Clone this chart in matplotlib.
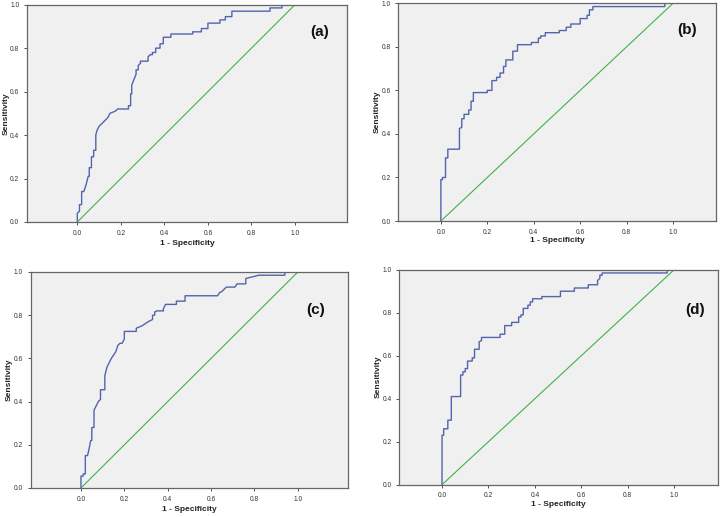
import matplotlib.pyplot as plt

# ROC curve vertices (1 - specificity, sensitivity)
fpr_a = [0, 0, 0.01, 0.01, 0.02, 0.02, 0.03, 0.04, 0.05, 0.055, 0.055, 0.065, 0.065, 0.075, 0.075,
         0.085, 0.085, 0.09, 0.10, 0.12, 0.14, 0.15, 0.175, 0.185, 0.235, 0.235, 0.245, 0.245, 0.25,
         0.25, 0.26, 0.27, 0.27, 0.28, 0.28, 0.29, 0.29, 0.325, 0.325, 0.335, 0.345, 0.345, 0.36,
         0.36, 0.38, 0.38, 0.395, 0.395, 0.43, 0.43, 0.53, 0.53, 0.57, 0.57, 0.60, 0.60, 0.655,
         0.655, 0.68, 0.68, 0.71, 0.71, 0.885, 0.885, 0.94, 0.94, 1.0]
tpr_a = [0, 0.04, 0.05, 0.08, 0.08, 0.14, 0.14, 0.17, 0.21, 0.21, 0.25, 0.25, 0.30, 0.30, 0.33,
         0.33, 0.40, 0.42, 0.44, 0.46, 0.48, 0.50, 0.51, 0.52, 0.52, 0.535, 0.535, 0.59, 0.59,
         0.63, 0.655, 0.68, 0.70, 0.70, 0.72, 0.73, 0.74, 0.74, 0.76, 0.77, 0.77, 0.78, 0.78,
         0.80, 0.80, 0.82, 0.82, 0.85, 0.85, 0.865, 0.865, 0.875, 0.875, 0.89, 0.89, 0.915, 0.915,
         0.93, 0.93, 0.945, 0.945, 0.97, 0.97, 0.985, 0.985, 1.0, 1.0]

fpr_b = [0, 0, 0.007, 0.007, 0.02, 0.02, 0.03, 0.03, 0.08, 0.08, 0.09, 0.09, 0.10, 0.10, 0.12,
         0.12, 0.13, 0.13, 0.14, 0.14, 0.20, 0.20, 0.22, 0.22, 0.24, 0.24, 0.255, 0.255, 0.27,
         0.27, 0.28, 0.28, 0.31, 0.31, 0.33, 0.33, 0.39, 0.39, 0.42, 0.42, 0.43, 0.43, 0.45, 0.45,
         0.51, 0.51, 0.54, 0.54, 0.56, 0.56, 0.60, 0.60, 0.63, 0.63, 0.64, 0.64, 0.655, 0.655,
         0.965, 0.965, 1.0]
tpr_b = [0, 0.19, 0.19, 0.20, 0.20, 0.29, 0.29, 0.33, 0.33, 0.425, 0.43, 0.47, 0.47, 0.49, 0.49,
         0.51, 0.51, 0.55, 0.55, 0.59, 0.59, 0.60, 0.60, 0.645, 0.645, 0.66, 0.66, 0.68, 0.68,
         0.71, 0.71, 0.74, 0.74, 0.78, 0.78, 0.81, 0.81, 0.82, 0.82, 0.84, 0.84, 0.85, 0.85, 0.865,
         0.865, 0.875, 0.875, 0.89, 0.89, 0.905, 0.905, 0.93, 0.93, 0.945, 0.945, 0.97, 0.97, 0.985,
         0.985, 1.0, 1.0]

fpr_c = [0, 0, 0.01, 0.01, 0.02, 0.02, 0.03, 0.035, 0.045, 0.05, 0.05, 0.06, 0.06, 0.07, 0.08,
         0.09, 0.09, 0.11, 0.11, 0.12, 0.14, 0.16, 0.17, 0.18, 0.19, 0.20, 0.20, 0.255, 0.255,
         0.28, 0.31, 0.33, 0.33, 0.34, 0.34, 0.35, 0.38, 0.38, 0.39, 0.44, 0.44, 0.48, 0.48, 0.63,
         0.64, 0.65, 0.67, 0.71, 0.72, 0.76, 0.76, 0.78, 0.82, 0.94, 0.94, 1.0]
tpr_c = [0, 0.055, 0.055, 0.065, 0.065, 0.15, 0.15, 0.17, 0.22, 0.22, 0.28, 0.28, 0.36, 0.38,
         0.40, 0.41, 0.455, 0.455, 0.52, 0.56, 0.60, 0.63, 0.66, 0.67, 0.67, 0.69, 0.725, 0.725,
         0.74, 0.75, 0.77, 0.78, 0.80, 0.80, 0.815, 0.82, 0.82, 0.83, 0.85, 0.85, 0.865, 0.865,
         0.89, 0.89, 0.905, 0.91, 0.93, 0.93, 0.945, 0.945, 0.97, 0.975, 0.985, 0.985, 1.0, 1.0]

fpr_d = [0, 0, 0.007, 0.007, 0.025, 0.025, 0.04, 0.04, 0.08, 0.08, 0.09, 0.09, 0.10, 0.10, 0.11,
         0.11, 0.13, 0.13, 0.14, 0.14, 0.16, 0.16, 0.17, 0.17, 0.25, 0.25, 0.27, 0.27, 0.30, 0.30,
         0.33, 0.33, 0.34, 0.34, 0.35, 0.35, 0.37, 0.37, 0.38, 0.38, 0.39, 0.39, 0.43, 0.43, 0.51,
         0.51, 0.57, 0.57, 0.63, 0.63, 0.67, 0.67, 0.68, 0.68, 0.69, 0.69, 0.97, 0.97, 1.0]
tpr_d = [0, 0.23, 0.23, 0.26, 0.26, 0.30, 0.30, 0.41, 0.41, 0.51, 0.51, 0.525, 0.525, 0.54, 0.54,
         0.575, 0.575, 0.59, 0.59, 0.63, 0.63, 0.665, 0.67, 0.685, 0.685, 0.70, 0.70, 0.74, 0.74,
         0.755, 0.755, 0.78, 0.78, 0.79, 0.79, 0.82, 0.82, 0.835, 0.835, 0.85, 0.85, 0.865, 0.865,
         0.875, 0.875, 0.90, 0.90, 0.915, 0.915, 0.93, 0.93, 0.95, 0.96, 0.975, 0.975, 0.985,
         0.985, 1.0, 1.0]

panel_labels = ['(a)', '(b)', '(c)', '(d)']
ticks = [0.0, 0.2, 0.4, 0.6, 0.8, 1.0]
tick_labels = ['0.0', '0.2', '0.4', '0.6', '0.8', '1.0']

# axes boxes in figure fractions, x-limits and label spots, measured on the reference
panels = [
    dict(rect=[0.0375, 0.5706, 0.4445, 0.4204], xlim=(-0.231, 1.239), lab=(1.115, 0.874), xl=-0.083, fpr=fpr_a, tpr=tpr_a),
    dict(rect=[0.553, 0.5725, 0.442, 0.4211], xlim=(-0.184, 1.187), lab=(1.062, 0.877), xl=-0.072, fpr=fpr_b, tpr=tpr_b),
    dict(rect=[0.0426, 0.0561, 0.4412, 0.4178], xlim=(-0.232, 1.233), lab=(1.08, 0.825), xl=-0.082, fpr=fpr_c, tpr=tpr_c),
    dict(rect=[0.5546, 0.0625, 0.4430, 0.4158], xlim=(-0.184, 1.19), lab=(1.089, 0.814), xl=-0.075, fpr=fpr_d, tpr=tpr_d),
]

plt.rcParams['font.family'] = ['Liberation Sans', 'DejaVu Sans']

fig = plt.figure(figsize=(7.2, 5.17), dpi=100)

for i, p in enumerate(panels):
    ax = fig.add_axes(p['rect'])
    ax.set_facecolor('#f0f0f0')
    ax.plot(p['fpr'], p['tpr'], color='#5264ad', lw=1.0)
    ax.plot([0, 1], [0, 1], color='#3cb44b', lw=0.8)
    ax.set_xlim(*p['xlim'])
    ax.set_ylim(0, 1)
    ax.set_xticks(ticks)
    ax.set_xticklabels(tick_labels)
    ax.set_yticks(ticks)
    ax.set_yticklabels(tick_labels)
    ax.tick_params(labelsize=4.8, length=2.5, width=0.6, colors='#333333', pad=3)
    for s in ax.spines.values():
        s.set_color('#666666')
        s.set_linewidth(0.9)
    ax.set_xlabel('1 - Specificity', fontsize=6, fontweight='bold', color='#222222')
    ax.set_ylabel('Sensitivity', fontsize=6, fontweight='bold', color='#222222')
    ax.xaxis.set_label_coords(0.5, p['xl'])
    ax.yaxis.set_label_coords(-0.055, 0.5)
    ax.text(p['lab'][0], p['lab'][1], panel_labels[i], fontsize=11, fontweight='bold',
            ha='center', va='center', color='#111111')

fig.savefig('out.png', dpi=100)
